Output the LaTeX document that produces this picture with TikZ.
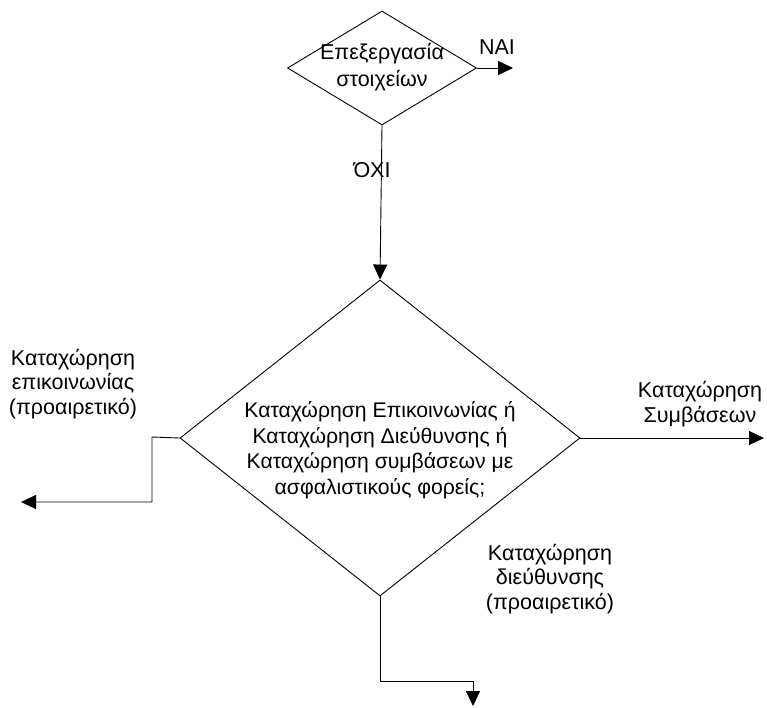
\documentclass[tikz,border=0pt]{standalone}
\usepackage{fontspec}
\setmainfont{Liberation Sans}
\usetikzlibrary{shapes.geometric,arrows.meta}
\begin{document}
\begin{tikzpicture}[x=1pt,y=-1pt,
  line width=0.9pt,
  dec/.style={draw, diamond, inner sep=0pt},
  lbl/.style={align=center, inner sep=0pt, font=\fontsize{21.5}{24.5}\selectfont},
  arr/.style={-{Triangle[length=15pt,width=14pt]}}]
\useasboundingbox[fill=white] (0,0) rectangle (767,707);
% decisions
\node[dec, minimum width=189pt, minimum height=114pt] (d1) at (382,68) {};
\node[lbl, font=\fontsize{21.5}{27}\selectfont] (t1) at (382,67) {Επεξεργασία\\στοιχείων};
\node[dec, minimum width=400pt, minimum height=316pt] (d2) at (380,438) {};
\node[lbl, font=\fontsize{21.2}{25.5}\selectfont] (t2) at (380,450) {Καταχώρηση Επικοινωνίας ή\\Καταχώρηση Διεύθυνσης ή\\Καταχώρηση συμβάσεων με\\ασφαλιστικούς φορείς;};
% labels
\node[lbl] (nai) at (497,47) {ΝΑΙ};
\node[lbl] (oxi) at (372,170) {ΌΧΙ};
\node[lbl] (lepik) at (73,384) {Καταχώρηση\\επικοινωνίας\\(προαιρετικό)};
\node[lbl] (lsymv) at (700,404) {Καταχώρηση\\Συμβάσεων};
\node[lbl] (ldieu) at (550,579) {Καταχώρηση\\διεύθυνσης\\(προαιρετικό)};
% coordinates
\coordinate (naiend) at (513,68);
\coordinate (l1) at (152,437);
\coordinate (l2) at (152,502);
\coordinate (lend) at (21,502);
\coordinate (rend) at (764,438);
\coordinate (b1) at (380,681);
\coordinate (b2) at (473,681);
\coordinate (bend) at (473,706);
% connectors
\draw[arr] (d1.east) -- (naiend);
\draw[arr] (d1.south) -- (d2.north);
\draw[arr] (d2.west) -- (l1) -- (l2) -- (lend);
\draw[arr] (d2.east) -- (rend);
\draw[arr] (d2.south) -- (b1) -- (b2) -- (bend);
\end{tikzpicture}
\end{document}
